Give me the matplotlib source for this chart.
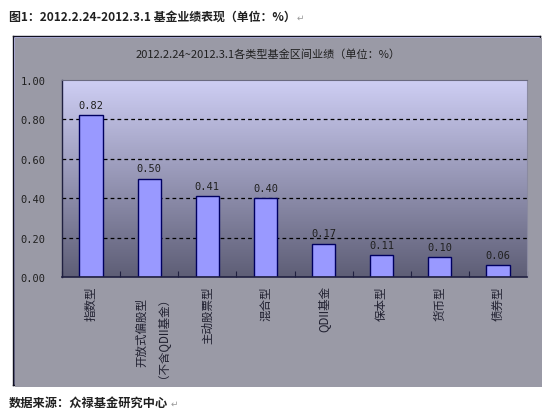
import numpy as np
import matplotlib
matplotlib.use("Agg")
import matplotlib.pyplot as plt
from matplotlib.patches import Rectangle

categories = ["指数型", "开放式偏股型\n（不含QDII基金）", "主动股票型", "混合型",
              "QDII基金", "保本型", "货币型", "债券型"]
values = [0.82, 0.50, 0.41, 0.40, 0.17, 0.11, 0.10, 0.06]
yticks = [0.0, 0.2, 0.4, 0.6, 0.8, 1.0]

W, H = 550, 414
fig = plt.figure(figsize=(W / 100, H / 100), dpi=100)
fig.patch.set_facecolor("white")

def fx(px):
    return px / W

def fy(py):
    return (H - py) / H

cjk = ["Noto Sans CJK SC", "DejaVu Sans"]
mono = ["DejaVu Sans Mono"]

# chart area box with gradient
bx0, by0, bx1, by1 = 13, 37, 540, 386
shadow = Rectangle((fx(bx0 + 2), fy(by1 + 2)), fx(bx1 - bx0), (by1 - by0) / H,
                   transform=fig.transFigure, facecolor="#9a9aa6", edgecolor="none", zorder=0)
fig.patches.append(shadow)
bg = fig.add_axes([fx(bx0), fy(by1), fx(bx1 - bx0), (by1 - by0) / H], zorder=0)
top_c = np.array([205, 205, 252]) / 255
bot_c = np.array([104, 104, 138]) / 255
t = np.linspace(0, 1, 256)[:, None]
grad = top_c[None, :] * (1 - t) + bot_c[None, :] * t
bg.imshow(grad[:, None, :], aspect="auto", extent=[0, 1, 0, 1], interpolation="bilinear")
bg.set_xlim(0, 1)
bg.set_ylim(0, 1)
bg.set_xticks([])
bg.set_yticks([])
for s in bg.spines.values():
    s.set_color("#101020")
    s.set_linewidth(1.0)

# plot area
px0, py0, px1, py1 = 62, 81, 527, 278
ax = fig.add_axes([fx(px0), fy(py1), fx(px1 - px0), (py1 - py0) / H], zorder=1)
ax.patch.set_visible(False)
ptop = np.array([206, 206, 244]) / 255
pbot = np.array([94, 94, 118]) / 255
grad2 = ptop[None, :] * (1 - t) + pbot[None, :] * t
ax.imshow(grad2[:, None, :], aspect="auto", extent=[0, 1, 0, 1],
          transform=ax.transAxes, zorder=0, interpolation="bilinear")

x = np.arange(len(categories))
ax.bar(x, values, width=0.4, color="#9999FF", edgecolor="#000060", linewidth=1.0, zorder=3)
for xi, v in zip(x, values):
    ax.annotate(f"{v:.2f}", (xi, v), xytext=(0, 4), textcoords="offset points",
                ha="center", va="bottom", fontsize=7.5, family=mono, color="#202020", zorder=4)

ax.set_xlim(-0.5, len(categories) - 0.5)
ax.set_ylim(0, 1.0)
ax.set_yticks(yticks)
ax.set_yticklabels([f"{v:.2f}" for v in yticks], family=mono, fontsize=7.5, color="#202020")
ax.tick_params(axis="y", length=0, pad=12)
for yv in yticks[1:-1]:
    ax.axhline(yv, color="black", linestyle=(0, (3, 2.5)), linewidth=0.9, zorder=2)

ax.set_xticks(x)
ax.set_xticklabels(categories, rotation=90, family=cjk, fontsize=8.3, color="#202030",
                   va="top", ha="center", multialignment="center")
ax.tick_params(axis="x", which="major", length=0, pad=6)
ax.set_xticks(np.arange(len(categories) + 1) - 0.5, minor=True)
ax.tick_params(axis="x", which="minor", direction="in", length=4, color="#202040", width=0.8)

ax.spines["left"].set_color("#202040")
ax.spines["bottom"].set_color("#202040")
ax.spines["left"].set_linewidth(1.0)
ax.spines["bottom"].set_linewidth(1.2)
ax.spines["top"].set_color("#6a6a80")
ax.spines["right"].set_color("#8a8aa0")
ax.spines["top"].set_linewidth(0.8)
ax.spines["right"].set_linewidth(0.8)
for s in ax.spines.values():
    s.set_zorder(5)

# titles
fig.text(fx(268), fy(55), "2012.2.24~2012.3.1各类型基金区间业绩（单位：%）",
         ha="center", va="center", fontsize=8, family=cjk, color="#202020")
fig.text(fx(9), fy(17), "图1：2012.2.24-2012.3.1 基金业绩表现（单位：%）",
         ha="left", va="center", fontsize=8.6, family=cjk, fontweight="bold", color="#202020")
fig.text(fx(297), fy(18), "↵", ha="left", va="center", fontsize=6.5, family=["DejaVu Sans"], color="#999999")
fig.text(fx(9), fy(403), "数据来源：众禄基金研究中心",
         ha="left", va="center", fontsize=8.8, family=cjk, fontweight="bold", color="#202020")
fig.text(fx(171), fy(404), "↵", ha="left", va="center", fontsize=6.5, family=["DejaVu Sans"], color="#999999")

fig.savefig("out.png", dpi=100)
